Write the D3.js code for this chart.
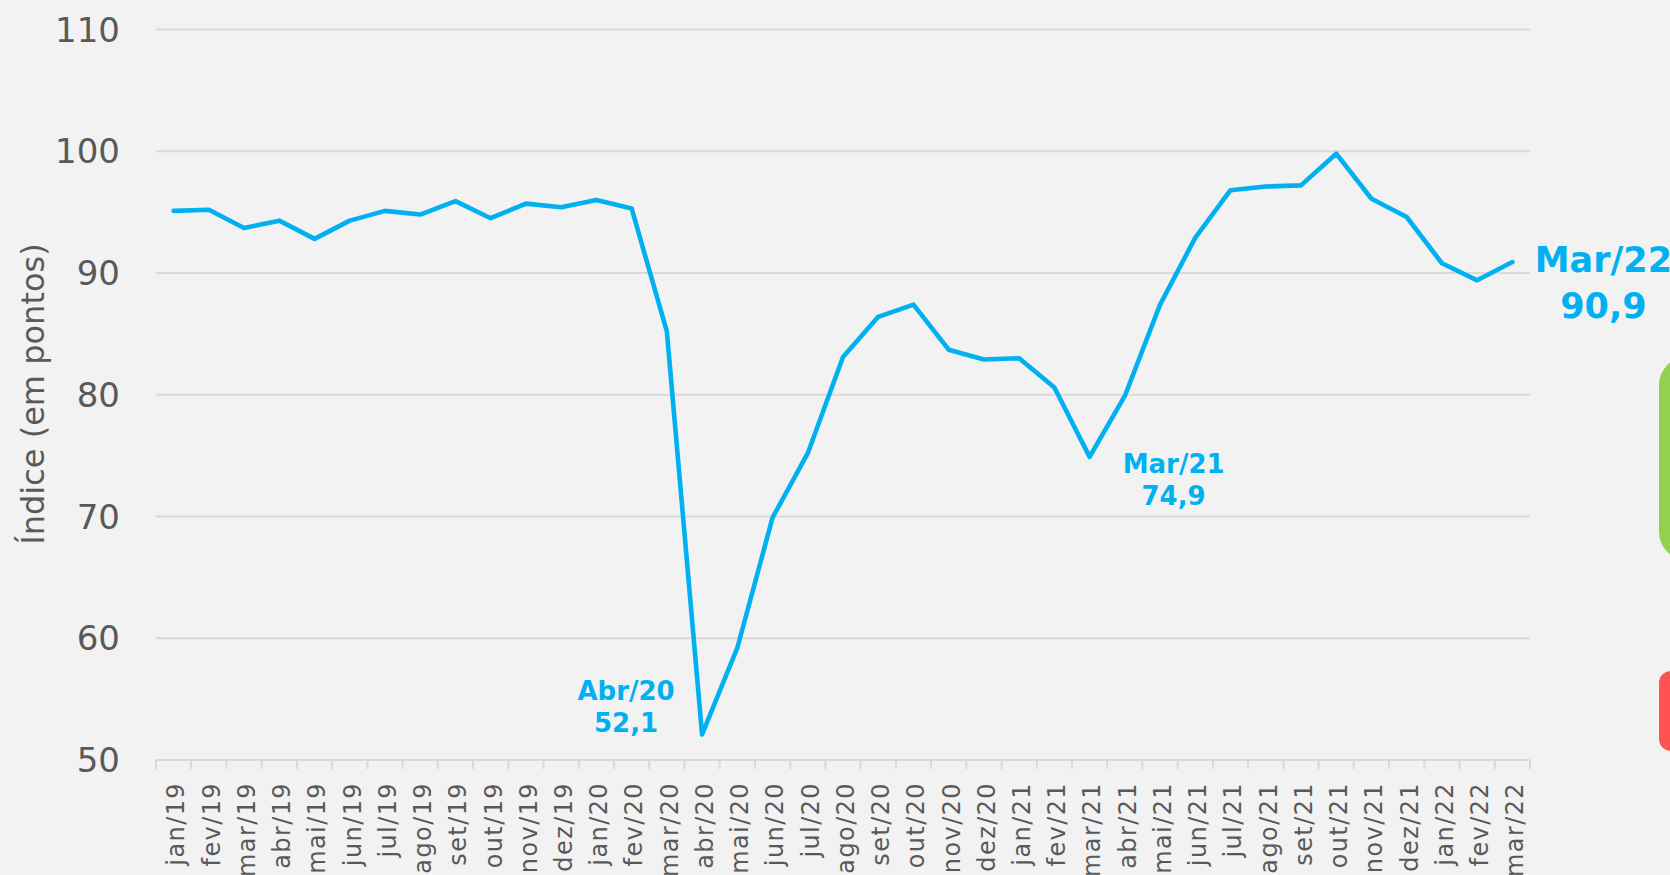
<!DOCTYPE html>
<html>
<head>
<meta charset="utf-8">
<title>Índice</title>
<script src="https://d3js.org/d3.v7.min.js"></script>
<style>
    html, body { margin: 0; padding: 0; background: #f2f2f2; overflow: hidden; }
    svg { display: block; font-family: "DejaVu Sans", sans-serif; }
    .grid line { stroke: #d9d9d9; stroke-width: 2; }
    .ylab { font-size: 34px; fill: #595959; }
    .xlab { font-size: 24px; fill: #595959; letter-spacing: 1.4px; }
    .ytitle { font-size: 32px; fill: #595959; }
    .note { font-weight: bold; fill: #00b0f0; }
</style>
</head>
<body>
<script>
    // months, jan/19 .. mar/22
    var months = ["jan/19","fev/19","mar/19","abr/19","mai/19","jun/19","jul/19","ago/19","set/19","out/19","nov/19","dez/19",
                  "jan/20","fev/20","mar/20","abr/20","mai/20","jun/20","jul/20","ago/20","set/20","out/20","nov/20","dez/20",
                  "jan/21","fev/21","mar/21","abr/21","mai/21","jun/21","jul/21","ago/21","set/21","out/21","nov/21","dez/21",
                  "jan/22","fev/22","mar/22"];
    var values = [95.1, 95.2, 93.7, 94.3, 92.8, 94.3, 95.1, 94.8, 95.9, 94.5, 95.7, 95.4,
                  96.0, 95.3, 85.2, 52.1, 59.2, 69.9, 75.2, 83.1, 86.4, 87.4, 83.7, 82.9,
                  83.0, 80.6, 74.9, 79.9, 87.4, 92.9, 96.8, 97.1, 97.2, 99.8, 96.1, 94.6,
                  90.8, 89.4, 90.9];
    var yTicks = [50, 60, 70, 80, 90, 100, 110];
    var noteMonths = ["abr/20", "mar/21", "mar/22"];
    var noteTitles = ["Abr/20", "Mar/21", "Mar/22"];

    var width = 1670, height = 875;
    var plotL = 156, plotR = 1530, plotT = 29.5, plotB = 760;

    var svg = d3.select("body").append("svg")
                .attr("width", width).attr("height", height);
    svg.append("rect").attr("width", width).attr("height", height).attr("fill", "#f2f2f2");

    var x = d3.scaleBand().domain(months).range([plotL, plotR]);
    var y = d3.scaleLinear().domain([50, 110]).range([plotB, plotT]);

    // horizontal grid
    svg.append("g").attr("class", "grid")
       .selectAll("line").data(yTicks).enter().append("line")
       .attr("x1", plotL).attr("x2", plotR)
       .attr("y1", function(d){ return y(d); }).attr("y2", function(d){ return y(d); });

    // y labels
    svg.append("g").selectAll("text").data(yTicks).enter().append("text")
       .attr("class", "ylab")
       .attr("x", 120).attr("y", function(d){ return y(d); })
       .attr("dy", "0.36em").attr("text-anchor", "end")
       .text(function(d){ return d; });

    svg.append("text").attr("class", "ytitle")
       .attr("transform", "translate(44,394) rotate(-90)")
       .attr("text-anchor", "middle")
       .text("Índice (em pontos)");

    // x axis ticks between months
    var edges = months.map(function(m){ return x(m); }).concat([plotR]);
    svg.append("g").attr("class", "grid")
       .selectAll("line").data(edges).enter().append("line")
       .attr("x1", function(d){ return d; }).attr("x2", function(d){ return d; })
       .attr("y1", plotB).attr("y2", plotB + 9);

    svg.append("g").selectAll("text").data(months).enter().append("text")
       .attr("class", "xlab")
       .attr("transform", function(d){ return "translate(" + (x(d) + x.bandwidth() / 2) + ",782) rotate(-90)"; })
       .attr("dy", "0.45em").attr("text-anchor", "end")
       .text(function(d){ return d; });

    // line
    var line = d3.line()
                 .x(function(d, i){ return x(months[i]) + x.bandwidth() / 2; })
                 .y(function(d){ return y(d); });
    svg.append("path").datum(values)
       .attr("d", line)
       .attr("fill", "none").attr("stroke", "#00b0f0")
       .attr("stroke-width", 4.6)
       .attr("stroke-linejoin", "round").attr("stroke-linecap", "round");

    // notes
    var noteDx = [-76, 84, 91], noteDy = [-34, 16, 10], noteSize = [26, 26, 35], noteGap = [32, 32, 46];
    noteMonths.forEach(function(m, k){
        var i = months.indexOf(m);
        var cx = x(m) + x.bandwidth() / 2 + noteDx[k];
        var cy = y(values[i]) + noteDy[k];
        var t = svg.append("text").attr("class", "note")
                   .attr("text-anchor", "middle")
                   .style("font-size", noteSize[k] + "px");
        t.append("tspan").attr("x", cx).attr("y", cy).text(noteTitles[k]);
        t.append("tspan").attr("x", cx).attr("y", cy + noteGap[k])
         .text(values[i].toFixed(1).replace(".", ","));
    });

    // shapes cut at the right edge
    svg.append("rect").attr("x", 1659).attr("y", 357).attr("width", 60).attr("height", 203)
       .attr("rx", 28).attr("fill", "#92d050");
    svg.append("rect").attr("x", 1659).attr("y", 671).attr("width", 60).attr("height", 80)
       .attr("rx", 12).attr("fill", "#ff5252");
</script>
</body>
</html>
